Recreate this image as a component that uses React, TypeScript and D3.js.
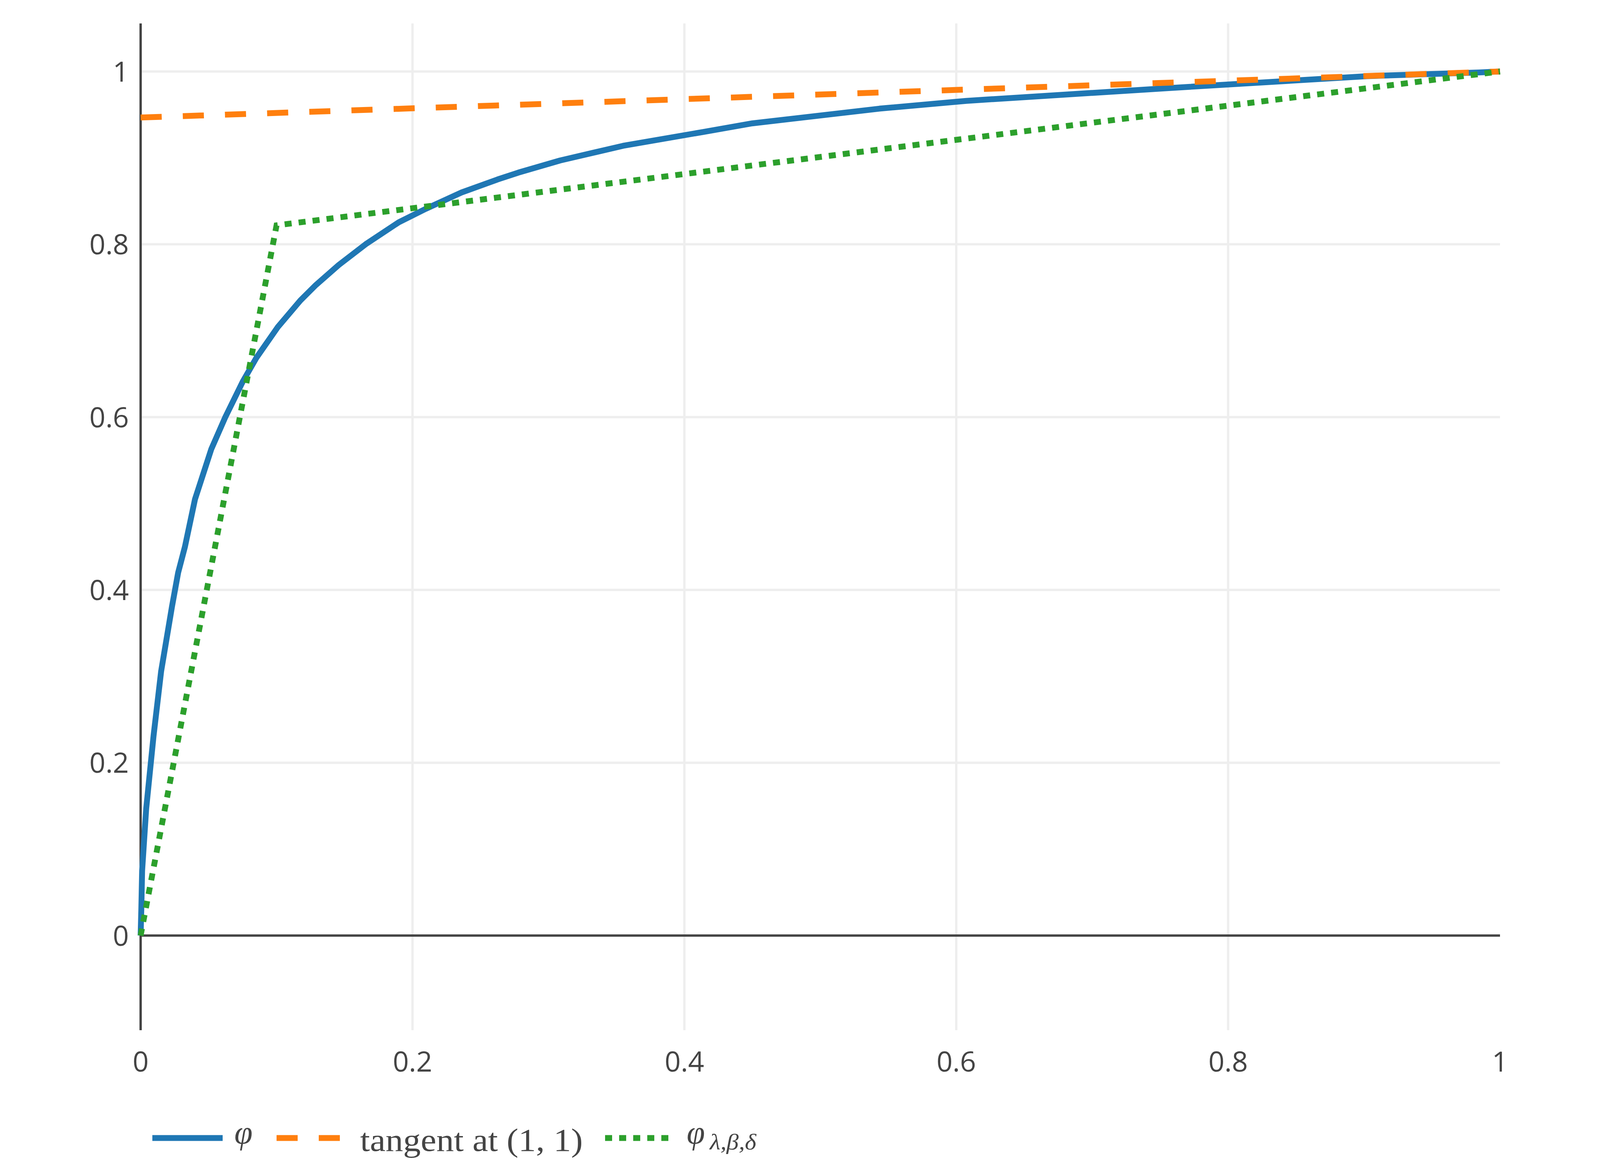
import React, { useEffect } from "react";
import * as d3 from "d3";

// ---- data ----
const phiX = [0, 0.0005, 0.0011, 0.0041, 0.0095, 0.0151, 0.0231, 0.0276, 0.0326, 0.04, 0.052, 0.0623, 0.0751, 0.0853, 0.1008, 0.1175, 0.129, 0.1457, 0.1655, 0.1899, 0.2097, 0.2361, 0.2625, 0.2779, 0.3086, 0.3549, 0.4138, 0.45, 0.5435, 0.6073, 0.7586, 0.9023, 0.9844, 1];
const phiY = [0, 0.03, 0.075, 0.147, 0.231, 0.306, 0.381, 0.42, 0.45, 0.505, 0.563, 0.6, 0.641, 0.669, 0.704, 0.735, 0.753, 0.776, 0.8, 0.8255, 0.841, 0.86, 0.875, 0.883, 0.897, 0.914, 0.93, 0.94, 0.957, 0.966, 0.981, 0.9946, 0.9989, 1];
const tangentX = [0, 1];
const tangentY = [0.9467, 1];
const approxX = [0, 0.1, 1];
const approxY = [0, 0.822, 1];

const xTicks = [0, 0.2, 0.4, 0.6, 0.8, 1];
const yTicks = [0, 0.2, 0.4, 0.6, 0.8, 1];
const xDomain = [0, 1];
const yDomain = [-0.1095, 1.0556];

const legendLabels = ["φ", "tangent at (1, 1)", "φ"];
const legendSub = "λ,β,δ";

const W = 4200;
const H = 3000;
const INK = "#444";
const GRID = "#eee";
const BLUE = "#1f77b4";
const ORANGE = "#ff7f0e";
const GREEN = "#2ca02c";

const left = 360;
const right = 3840;
const top = 60;
const bottom = 2637;

export default function App() {
  useEffect(() => {
    document.body.style.margin = "0";
  }, []);

  const x = d3.scaleLinear().domain(xDomain).range([left, right]);
  const y = d3.scaleLinear().domain(yDomain).range([bottom, top]);

  const line = d3
    .line<[number, number]>()
    .x((d) => x(d[0]))
    .y((d) => y(d[1]));

  const phiPath = line(phiX.map((v, i) => [v, phiY[i]]) as [number, number][]) || "";
  const tanPath = line(tangentX.map((v, i) => [v, tangentY[i]]) as [number, number][]) || "";
  const apxPath = line(approxX.map((v, i) => [v, approxY[i]]) as [number, number][]) || "";

  const fmt = (v: number) => (v === 0 || v === 1 ? String(v) : v.toString());

  const lw = 15;
  const legY = 2913;
  const serif = "'Liberation Serif', 'DejaVu Serif', serif";

  return (
    <svg
      width={W}
      height={H}
      viewBox={`0 0 ${W} ${H}`}
      style={{ position: "absolute", left: 0, top: 0, background: "#fff" }}
      fontFamily="'Open Sans', sans-serif"
    >
      <rect x={0} y={0} width={W} height={H} fill="#fff" />
      {/* grid */}
      {xTicks
        .filter((t) => t !== 0 && t !== 1)
        .map((t) => (
          <line key={"gx" + t} x1={x(t)} x2={x(t)} y1={top} y2={bottom} stroke={GRID} strokeWidth={6} />
        ))}
      {yTicks
        .filter((t) => t !== 0)
        .map((t) => (
          <line key={"gy" + t} x1={left} x2={right} y1={y(t)} y2={y(t)} stroke={GRID} strokeWidth={6} />
        ))}
      {/* zero line */}
      <line x1={left} x2={right} y1={y(0)} y2={y(0)} stroke={INK} strokeWidth={6} />
      {/* y axis line */}
      <line x1={x(0)} x2={x(0)} y1={top} y2={bottom} stroke={INK} strokeWidth={6} />

      {/* traces */}
      <path d={phiPath} fill="none" stroke={BLUE} strokeWidth={lw} strokeLinejoin="round" />
      <path d={tanPath} fill="none" stroke={ORANGE} strokeWidth={lw} strokeDasharray="54,54" />
      <path d={apxPath} fill="none" stroke={GREEN} strokeWidth={lw} strokeDasharray="18,18" />

      {/* tick labels */}
      {yTicks.map((t) => (
        <text key={"ty" + t} x={left - 30} y={y(t)} dy="0.36em" textAnchor="end" fontSize={72} fill={INK}>
          {fmt(t)}
        </text>
      ))}
      {xTicks.map((t) => (
        <text key={"tx" + t} x={x(t)} y={bottom + 106} textAnchor="middle" fontSize={72} fill={INK}>
          {fmt(t)}
        </text>
      ))}

      {/* legend */}
      <g>
        <line x1={390} x2={570} y1={legY} y2={legY} stroke={BLUE} strokeWidth={lw} />
        <text x={600} y={2927} fontFamily={serif} fontStyle="italic" fontSize={84} fill={INK}>
          {legendLabels[0]}
        </text>

        <line x1={708} x2={888} y1={legY} y2={legY} stroke={ORANGE} strokeWidth={lw} strokeDasharray="54,54" />
        <text x={922} y={2946} fontFamily={serif} fontSize={82} fill={INK} textLength={570} lengthAdjust="spacingAndGlyphs">
          {legendLabels[1]}
        </text>

        <line x1={1549} x2={1729} y1={legY} y2={legY} stroke={GREEN} strokeWidth={lw} strokeDasharray="18,18" />
        <text x={1758} y={2927} fontFamily={serif} fontStyle="italic" fontSize={84} fill={INK}>
          {legendLabels[2]}
        </text>
        <text x={1817} y={2942} fontFamily={serif} fontStyle="italic" fontSize={58} fill={INK} textLength={119} lengthAdjust="spacingAndGlyphs">
          {legendSub}
        </text>
      </g>
    </svg>
  );
}
